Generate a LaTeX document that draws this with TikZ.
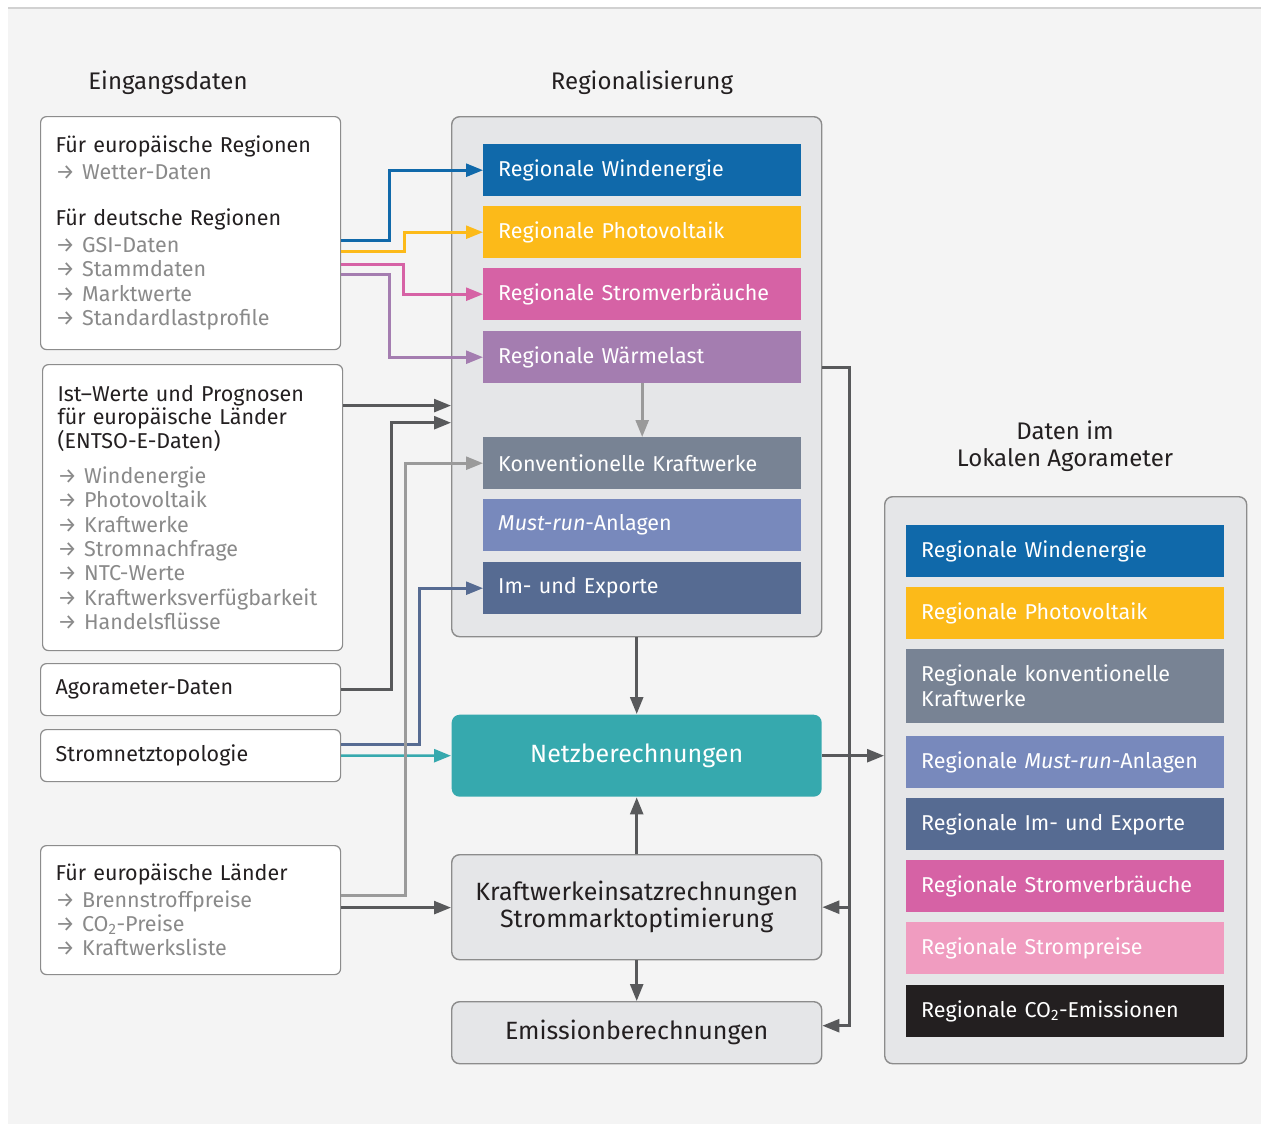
\documentclass[tikz,border=0pt]{standalone}
\usepackage{fontspec}
\setmainfont{Fira Sans}
\usetikzlibrary{arrows.meta}
\definecolor{hgrund}{HTML}{F4F4F4}
\definecolor{kasten}{HTML}{E5E6E8}
\definecolor{rand}{HTML}{8C8C8C}
\definecolor{schrift}{HTML}{231F20}
\definecolor{grau}{HTML}{8A8A8A}
\definecolor{dunkel}{HTML}{58595B}
\definecolor{hell}{HTML}{9A9A9A}
\definecolor{cwind}{HTML}{1069AA}
\definecolor{csonne}{HTML}{FCBA19}
\definecolor{cstrom}{HTML}{D662A5}
\definecolor{cwaerme}{HTML}{A47DB0}
\definecolor{ckonv}{HTML}{788394}
\definecolor{cmust}{HTML}{7889BC}
\definecolor{chandel}{HTML}{566B92}
\definecolor{cnetz}{HTML}{36A9AE}
\definecolor{cpreis}{HTML}{F09CC0}
\definecolor{cco}{HTML}{231F20}
\newcommand{\eintrag}[1]{{\color{grau}→ #1}}
\tikzset{
  titel/.style={font=\fontsize{24}{27}\selectfont, text=schrift, align=center},
  eingabe/.style={draw=rand, fill=white, rounded corners=6pt, line width=1.2pt, anchor=north west,
    minimum width=300pt, text width=270pt, inner xsep=15pt, align=left, text=schrift,
    font=\fontsize{21.5}{24.3}\selectfont},
  rahmen/.style={draw=rand, fill=kasten, rounded corners=8pt, line width=1.4pt, anchor=north west,
    inner sep=0pt},
  balken/.style={anchor=north west, minimum height=52pt, text width=288pt, inner xsep=15pt,
    align=left, text=white, font=\fontsize{21.5}{25}\selectfont},
  rechnung/.style={rahmen, minimum width=370pt, align=center, text=schrift,
    font=\fontsize{25}{27}\selectfont},
  pfeil/.style={line width=2.6pt, -{Triangle[length=17pt,width=13pt]}},
}

\begin{document}
\begin{tikzpicture}[x=1pt,y=-1pt]
  \useasboundingbox (0,0) rectangle (1261,1124);
  \fill[white] (0,0) rectangle (1261,1124);
  \fill[hgrund] (8,8) rectangle (1261,1124);
  \draw[black!18, line width=1.5pt] (8,8) -- (1261,8);

  % Ueberschriften
  \node[titel] (t1) at (168,83) {Eingangsdaten};
  \node[titel] (t2) at (642,83) {Regionalisierung};
  \node[titel] (t3) at (1065,446) {Daten im\\Lokalen Agorameter};

  % Eingangsdaten
  \node[eingabe, minimum height=233pt] (in1) at (40,116) {Für europäische Regionen\\[2pt]
    \eintrag{Wetter-Daten}\\[22pt]
    Für deutsche Regionen\\[3pt]
    \eintrag{GSI-Daten}\\ \eintrag{Stammdaten}\\ \eintrag{Marktwerte}\\ \eintrag{Standardlastprofile}};
  \node[eingabe, minimum height=286pt] (in2) at (42,364) {Ist–Werte und Prognosen\\[-1pt]
    für europäische Länder\\[-1pt] (ENTSO-E-Daten)\\[11pt]
    \eintrag{Windenergie}\\ \eintrag{Photovoltaik}\\ \eintrag{Kraftwerke}\\ \eintrag{Stromnachfrage}\\
    \eintrag{NTC-Werte}\\ \eintrag{Kraftwerksverfügbarkeit}\\ \eintrag{Handelsflüsse}};
  \node[eingabe, minimum height=52pt] (agora) at (40,663) {Agorameter-Daten};
  \node[eingabe, minimum height=52pt] (topo) at (40,729) {Stromnetztopologie};
  \node[eingabe, minimum height=129pt] (in5) at (40,845) {Für europäische Länder\\[2pt]
    \eintrag{Brennstroffpreise}\\ \eintrag{CO\textsubscript{2}-Preise}\\ \eintrag{Kraftwerksliste}};

  % Regionalisierung
  \node[rahmen, minimum width=370pt, minimum height=520pt] (reg) at (451,116) {};
  \node[balken, fill=cwind] (wind) at (483,144) {Regionale Windenergie};
  \node[balken, fill=csonne] (pv) at (483,206) {Regionale Photovoltaik};
  \node[balken, fill=cstrom] (last) at (483,268) {Regionale Stromverbräuche};
  \node[balken, fill=cwaerme] (heat) at (483,331) {Regionale Wärmelast};
  \node[balken, fill=ckonv] (konv) at (483,437) {Konventionelle Kraftwerke};
  \node[balken, fill=cmust] (must) at (483,499) {\textit{Must-run}-Anlagen};
  \node[balken, fill=chandel] (trade) at (483,562) {Im- und Exporte};

  % Rechnungen
  \node[rechnung, draw=none, fill=cnetz, text=white, minimum height=82pt] (netz) at (451,714) {Netzberechnungen};
  \node[rechnung, minimum height=105pt] (kw) at (451,854) {Kraftwerkeinsatzrechnungen\\Strommarktoptimierung};
  \node[rechnung, minimum height=62pt] (emis) at (451,1001) {Emissionberechnungen};

  % Daten im Lokalen Agorameter
  \node[rahmen, minimum width=362pt, minimum height=567pt] (aus) at (884,496) {};
  \node[balken, fill=cwind] (a1) at (906,525) {Regionale Windenergie};
  \node[balken, fill=csonne] (a2) at (906,587) {Regionale Photovoltaik};
  \node[balken, fill=ckonv, minimum height=74pt] (a3) at (906,649) {Regionale konventionelle\\Kraftwerke};
  \node[balken, fill=cmust] (a4) at (906,736) {Regionale \textit{Must-run}-Anlagen};
  \node[balken, fill=chandel] (a5) at (906,798) {Regionale Im- und Exporte};
  \node[balken, fill=cstrom] (a6) at (906,860) {Regionale Stromverbräuche};
  \node[balken, fill=cpreis] (a7) at (906,922) {Regionale Strompreise};
  \node[balken, fill=cco] (a8) at (906,985) {Regionale CO\textsubscript{2}-Emissionen};

  % Verbindungen links
  \draw[pfeil, cwind] ([yshift=-7.5pt]in1.east) -- ++(48,0) |- (wind.west);
  \draw[pfeil, csonne] ([yshift=-18.5pt]in1.east) -- ++(63,0) |- (pv.west);
  \draw[pfeil, cstrom] ([yshift=-31.5pt]in1.east) -- ++(62,0) |- (last.west);
  \draw[pfeil, cwaerme] ([yshift=-41.5pt]in1.east) -- ++(48,0) |- (heat.west);
  \draw[pfeil, dunkel] ([yshift=102pt]in2.east) coordinate (e1) -- (e1 -| reg.west);
  \draw[pfeil, dunkel] (agora.east) -- ++(50,0) |- ([yshift=-46pt]reg.west);
  \draw[pfeil, chandel] ([yshift=11pt]topo.east) -- ++(78,0) |- (trade.west);
  \draw[pfeil, cnetz] (topo.east) -- (netz.west);
  \draw[pfeil, dunkel] ([yshift=2.5pt]in5.east) coordinate (e2) -- (e2 -| kw.west);
  \draw[pfeil, hell] ([yshift=14.5pt]in5.east) -- ++(64,0) |- (konv.west);

  % Verbindungen Mitte
  \draw[pfeil, hell] (heat.south) -- (konv.north);
  \draw[pfeil, dunkel] (reg.south) -- (netz.north);
  \draw[pfeil, dunkel] (kw.north) -- (netz.south);
  \draw[pfeil, dunkel] (kw.south) -- (emis.north);

  % Verbindungen rechts
  \draw[pfeil, dunkel] ([yshift=9pt]reg.east) -- ++(27,0) coordinate (r1) |- ([yshift=7pt]emis.east);
  \draw[pfeil, dunkel] (r1 |- kw.east) -- (kw.east);
  \draw[pfeil, dunkel] (netz.east) -- (netz.east -| aus.west);
\end{tikzpicture}
\end{document}
